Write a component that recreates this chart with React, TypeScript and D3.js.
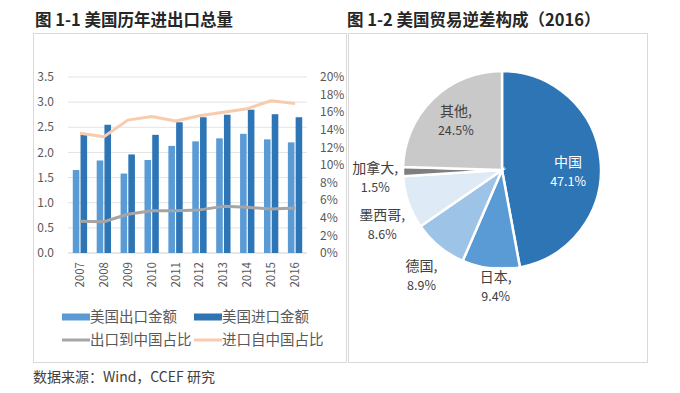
import React from 'react';
import * as d3 from 'd3';

// --- data ---
const years = ['2007', '2008', '2009', '2010', '2011', '2012', '2013', '2014', '2015', '2016'];
const exportAmt = [1.65, 1.84, 1.58, 1.85, 2.13, 2.22, 2.28, 2.37, 2.26, 2.2];
const importAmt = [2.35, 2.55, 1.96, 2.35, 2.6, 2.7, 2.75, 2.85, 2.76, 2.7];
const exportToChina = [3.6, 3.55, 4.4, 4.8, 4.8, 4.9, 5.3, 5.2, 5.0, 5.1];
const importFromChina = [13.6, 13.2, 15.1, 15.5, 15.0, 15.6, 16.0, 16.4, 17.3, 17.0];
const leftTicks = [0, 0.5, 1, 1.5, 2, 2.5, 3, 3.5];
const rightTicks = [0, 2, 4, 6, 8, 10, 12, 14, 16, 18, 20];

const pieNames = ['中国', '日本', '德国', '墨西哥', '加拿大', '其他'];
const pieValues = [47.1, 9.4, 8.9, 8.6, 1.5, 24.5];
const pieColors = ['#2E75B6', '#5B9BD5', '#9DC3E6', '#DEEBF7', '#7F7F7F', '#C9C9C9'];

// small hand nudges for the data labels (Excel "best fit" placement)
const labelNudge: [number, number][] = [[0, 9], [8, -8], [0, 9], [0, 15], [0, 7], [0, 0]];

const FONT = '"Noto Sans CJK SC", "Noto Sans", sans-serif';
const axisText = '#595959';

const BarLine: React.FC = () => {
    const margin = { left: 68, right: 307, top: 77, bottom: 253 };
    const x = d3.scaleBand<string>().domain(years).range([margin.left, margin.right])
        .paddingInner(0.4).paddingOuter(0.2);
    const inner = d3.scaleBand<string>().domain(['exp', 'imp']).range([0, x.bandwidth()]).paddingInner(0.15);
    const yL = d3.scaleLinear().domain([0, 3.5]).range([margin.bottom, margin.top]);
    const yR = d3.scaleLinear().domain([0, 20]).range([margin.bottom, margin.top]);
    const cx = (i: number) => (x(years[i]) as number) + x.bandwidth() / 2;
    const line = d3.line<number>().x((_d, i) => cx(i)).y(d => yR(d));

    const legend = [
        { label: '美国出口金额', color: '#5B9BD5', kind: 'bar' },
        { label: '美国进口金额', color: '#2E75B6', kind: 'bar' },
        { label: '出口到中国占比', color: '#A5A5A5', kind: 'line' },
        { label: '进口自中国占比', color: '#F8CBAD', kind: 'line' },
    ];

    return (
        <g>
            <rect x={33.5} y={33.5} width={313} height={329} fill="#fff" stroke="#D9D9D9" />
            {leftTicks.map(t => (
                <line key={t} x1={margin.left} x2={margin.right} y1={yL(t)} y2={yL(t)}
                    stroke={t === 0 ? '#D0D0D0' : '#E3E3E3'} strokeWidth={1} />
            ))}
            {leftTicks.map(t => (
                <text key={t} x={54} y={yL(t)} dy="0.35em" textAnchor="end" fontSize={12} fill={axisText}>
                    {t.toFixed(1)}
                </text>
            ))}
            {rightTicks.map(t => (
                <text key={t} x={320} y={yR(t)} dy="0.35em" textAnchor="start" fontSize={12} fill={axisText}>
                    {t}%
                </text>
            ))}
            {years.map((yr, i) => (
                <g key={yr}>
                    <rect x={(x(yr) as number) + (inner('exp') as number)} y={yL(exportAmt[i])}
                        width={inner.bandwidth()} height={yL(0) - yL(exportAmt[i])} fill="#5B9BD5" />
                    <rect x={(x(yr) as number) + (inner('imp') as number)} y={yL(importAmt[i])}
                        width={inner.bandwidth()} height={yL(0) - yL(importAmt[i])} fill="#2E75B6" />
                    <text transform={`translate(${cx(i) + 4}, 262) rotate(-90)`} textAnchor="end"
                        fontSize={11.5} fill={axisText}>{yr}</text>
                </g>
            ))}
            <path d={line(importFromChina) || ''} fill="none" stroke="#F8CBAD" strokeWidth={3} strokeLinejoin="round" />
            <path d={line(exportToChina) || ''} fill="none" stroke="#A5A5A5" strokeWidth={3} strokeLinejoin="round" />
            {legend.map((l, i) => {
                const lx = 62 + (i % 2) * 132;
                const ly = 317 + Math.floor(i / 2) * 23;
                return (
                    <g key={l.label}>
                        {l.kind === 'bar'
                            ? <rect x={lx} y={ly - 3.5} width={28} height={7} fill={l.color} />
                            : <line x1={lx} x2={lx + 28} y1={ly} y2={ly} stroke={l.color} strokeWidth={3} />}
                        <text x={lx + 28} y={ly} dy="0.35em" fontSize={14.5} fill={axisText}>{l.label}</text>
                    </g>
                );
            })}
        </g>
    );
};

const Pie: React.FC = () => {
    const cx = 502;
    const cy = 170;
    const r = 99;
    const arcs = d3.pie<number>().sort(null).value(d => d)(pieValues);
    const arc = d3.arc<d3.PieArcDatum<number>>().innerRadius(0).outerRadius(r);
    const insideArc = d3.arc<d3.PieArcDatum<number>>().innerRadius(r * 0.67).outerRadius(r * 0.67);
    const outsideArc = d3.arc<d3.PieArcDatum<number>>().innerRadius(r * 1.28).outerRadius(r * 1.28);

    return (
        <g>
            <rect x={348.5} y={33.5} width={299} height={329} fill="#fff" stroke="#D9D9D9" />
            <g transform={`translate(${cx}, ${cy})`}>
                {arcs.map((a, i) => (
                    <path key={pieNames[i]} d={arc(a) || ''} fill={pieColors[i]} stroke="#fff" strokeWidth={2.5} />
                ))}
                {arcs.map((a, i) => {
                    const inside = pieValues[i] > 20;
                    const [px, py] = inside ? insideArc.centroid(a) : outsideArc.centroid(a);
                    const lx = px + labelNudge[i][0];
                    const ly = py + labelNudge[i][1];
                    const fill = i === 0 ? '#fff' : '#404040';
                    return (
                        <g key={pieNames[i]} transform={`translate(${lx}, ${ly})`}>
                            {!inside && (
                                <rect x={-24} y={-21} width={48} height={40} fill="#fff" opacity={0.85} />
                            )}
                            <text y={-6} textAnchor="middle" fontSize={14} fill={fill}>
                                {pieNames[i]}{i === 0 ? '' : ','}
                            </text>
                            <text y={13} textAnchor="middle" fontSize={12.5} fill={fill}>
                                {pieValues[i].toFixed(1)}%
                            </text>
                        </g>
                    );
                })}
            </g>
        </g>
    );
};

const App: React.FC = () => (
    <svg width={680} height={393} style={{ position: 'absolute', left: 0, top: 0, fontFamily: FONT }}>
        <rect width={680} height={393} fill="#fff" />
        <text x={35} y={26} fontSize={16.5} fontWeight="bold" fill="#262626">图 1-1  美国历年进出口总量</text>
        <text x={347} y={26} fontSize={16.5} fontWeight="bold" fill="#262626">图 1-2 美国贸易逆差构成（2016）</text>
        <BarLine />
        <Pie />
        <text x={33} y={382} fontSize={14} fill="#404040">数据来源：Wind，CCEF 研究</text>
    </svg>
);

export default App;
